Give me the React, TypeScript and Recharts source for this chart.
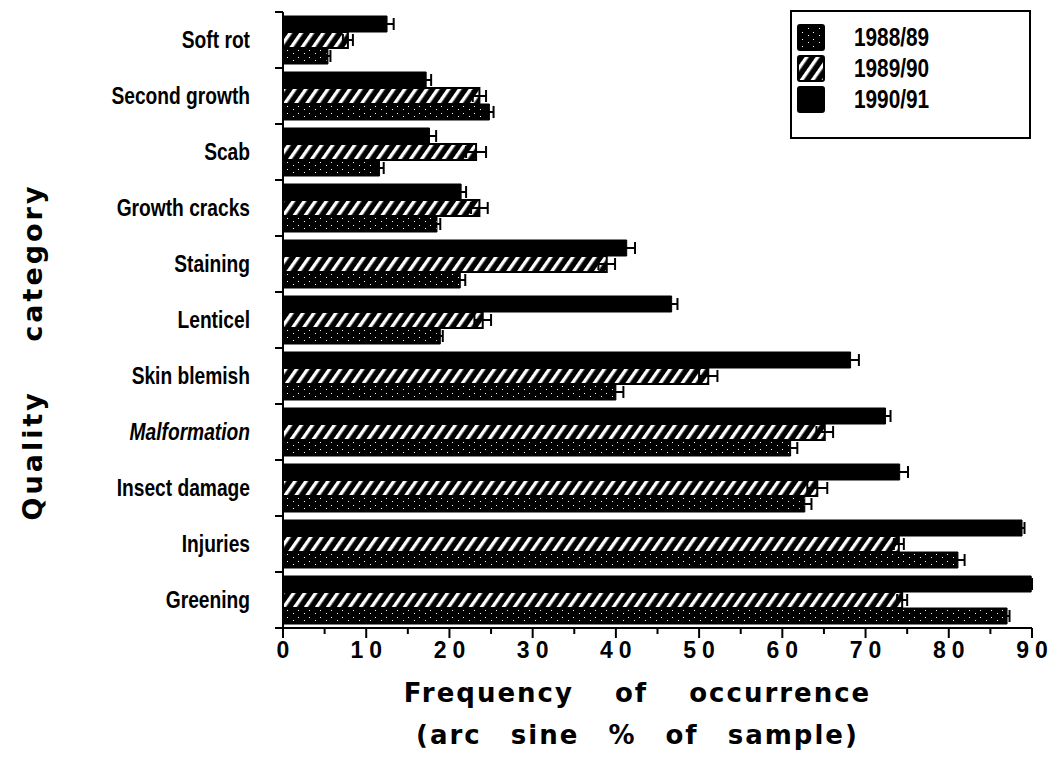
import React from 'react'
import { BarChart, Bar, XAxis, YAxis, ErrorBar } from 'recharts'

// quality categories, top to bottom
const categories = [
  'Soft rot',
  'Second growth',
  'Scab',
  'Growth cracks',
  'Staining',
  'Lenticel',
  'Skin blemish',
  'Malformation',
  'Insect damage',
  'Injuries',
  'Greening',
]

// arc sine % of sample, with standard errors
const season8889 = [5.4, 24.8, 11.6, 18.5, 21.3, 18.9, 40.0, 61.0, 62.7, 81.1, 87.0]
const err8889 = [0.3, 0.5, 0.5, 0.4, 0.6, 0.3, 0.9, 0.8, 0.8, 0.8, 0.3]
const season8990 = [7.8, 23.6, 23.2, 23.6, 38.9, 24.0, 51.1, 65.1, 64.2, 74.0, 74.4]
const err8990 = [0.6, 0.8, 1.2, 1.0, 1.0, 1.0, 1.1, 1.0, 1.2, 0.6, 0.6]
const season9091 = [12.5, 17.2, 17.6, 21.4, 41.3, 46.7, 68.2, 72.4, 74.1, 88.8, 89.9]
const err9091 = [0.8, 0.6, 0.8, 0.6, 1.0, 0.7, 1.0, 0.6, 1.0, 0.3, 0.1]

const xTicks = [0, 5, 10, 15, 20, 25, 30, 35, 40, 45, 50, 55, 60, 65, 70, 75, 80, 85, 90]
const seasonLabels = ['1988/89', '1989/90', '1990/91']

const W = 1063
const H = 779
const PLOT_LEFT = 283
const PLOT_RIGHT = 1032
const PLOT_TOP = 12
const PLOT_BOTTOM = 628
const Y_AXIS_W = 200
const X_AXIS_H = 40
const BAND = (PLOT_BOTTOM - PLOT_TOP) / categories.length

const data = categories.map((name, i) => ({
  name,
  s8889: season8889[i],
  e8889: err8889[i],
  s8990: season8990[i],
  e8990: err8990[i],
  s9091: season9091[i],
  e9091: err9091[i],
}))

// condensed bold look: Liberation Sans squeezed horizontally
const sans = "'Liberation Sans', Arial, sans-serif"
const wide = "'DejaVu Sans', Verdana, sans-serif"

const Patterns = ({ prefix }: { prefix: string }) => (
  <defs>
    <pattern id={`${prefix}-hatch`} patternUnits="userSpaceOnUse" width="9" height="9" patternTransform="rotate(35)">
      <rect width="9" height="9" fill="#000" />
      <rect x="3" y="0" width="3.4" height="9" fill="#fff" />
    </pattern>
    <pattern id={`${prefix}-stipple`} patternUnits="userSpaceOnUse" width="11" height="7">
      <rect width="11" height="7" fill="#000" />
      <rect x="1" y="1" width="1" height="1" fill="#fff" />
      <rect x="7" y="4" width="1" height="1" fill="#fff" />
    </pattern>
  </defs>
)

const Narrow = ({ x, y, anchor, size, italic, children }: any) => (
  <text
    transform={`translate(${x},${y}) scale(0.8,1)`}
    textAnchor={anchor}
    fontFamily={sans}
    fontWeight="bold"
    fontStyle={italic ? 'italic' : 'normal'}
    fontSize={size}
    fill="#000"
  >
    {children}
  </text>
)

const CategoryTick = (props: any) => {
  const { x, y, payload, index } = props
  return (
    <g>
      <line x1={x - 8} x2={x} y1={y - BAND / 2} y2={y - BAND / 2} stroke="#000" strokeWidth={2} />
      {index === categories.length - 1 && (
        <line x1={x - 8} x2={x} y1={y + BAND / 2} y2={y + BAND / 2} stroke="#000" strokeWidth={2} />
      )}
      <Narrow x={x - 33} y={y + 8} anchor="end" size={24} italic={payload.value === 'Malformation'}>
        {payload.value}
      </Narrow>
    </g>
  )
}

const ValueTick = (props: any) => {
  const { x, y, payload } = props
  const major = payload.value % 10 === 0
  return (
    <g>
      <line x1={x} x2={x} y1={y} y2={y + (major ? 10 : 6)} stroke="#000" strokeWidth={2} />
      {major && (
        <text x={x + 3} y={y + 30} textAnchor="middle" fontFamily={sans} fontWeight="bold" fontSize={23} letterSpacing={6} fill="#000">
          {payload.value}
        </text>
      )}
    </g>
  )
}

const XTitle = (props: any) => {
  const { viewBox } = props
  const cx = viewBox.x + viewBox.width / 2 - 20
  return (
    <g fontFamily={wide} fontWeight="bold" fill="#000" fontSize={26} letterSpacing={2}>
      <text x={cx} y={viewBox.y + 74} textAnchor="middle" wordSpacing={30}>
        Frequency of occurrence
      </text>
      <text x={cx} y={viewBox.y + 116} textAnchor="middle" wordSpacing={18}>
        (arc sine % of sample)
      </text>
    </g>
  )
}

const YTitle = () => (
  <text
    x={42}
    y={352}
    transform="rotate(-90 42 352)"
    textAnchor="middle"
    fontFamily={wide}
    fontWeight="bold"
    fontSize={27}
    letterSpacing={3}
    wordSpacing={36}
    fill="#000"
  >
    Quality category
  </text>
)

const fills = ['url(#leg-stipple)', 'url(#leg-hatch)', '#000']

const LegendBox = () => (
  <svg width={242} height={130} style={{ position: 'absolute', left: 790, top: 10 }}>
    <Patterns prefix="leg" />
    <rect x={1} y={1} width={239} height={127} fill="#fff" stroke="#000" strokeWidth={2} />
    {seasonLabels.map((label, i) => (
      <g key={label}>
        <rect x={8} y={15 + i * 31} width={26} height={25} fill={fills[i]} stroke="#000" strokeWidth={2} rx={2} />
        <Narrow x={64} y={36 + i * 31} anchor="start" size={26}>
          {label}
        </Narrow>
      </g>
    ))}
  </svg>
)

export default function App() {
  return (
    <div style={{ position: 'absolute', left: 0, top: 0, width: W, height: H, background: '#fff' }}>
      <BarChart
        width={W}
        height={H}
        data={data}
        layout="vertical"
        barGap={0}
        barSize={16}
        margin={{
          top: PLOT_TOP,
          right: W - PLOT_RIGHT,
          left: PLOT_LEFT - Y_AXIS_W,
          bottom: H - PLOT_BOTTOM - X_AXIS_H,
        }}
      >
        <Patterns prefix="bar" />
        <XAxis
          type="number"
          domain={[0, 90]}
          ticks={xTicks}
          allowDataOverflow
          height={X_AXIS_H}
          tickSize={0}
          tickMargin={0}
          tickLine={false}
          tick={<ValueTick />}
          interval={0}
          axisLine={{ stroke: '#000', strokeWidth: 2 }}
          label={<XTitle />}
        />
        <YAxis
          type="category"
          dataKey="name"
          width={Y_AXIS_W}
          tickSize={0}
          tickMargin={0}
          tickLine={false}
          tick={<CategoryTick />}
          interval={0}
          axisLine={{ stroke: '#000', strokeWidth: 2 }}
        />
        <Bar dataKey="s9091" fill="#000" stroke="#000" strokeWidth={1} isAnimationActive={false}>
          <ErrorBar dataKey="e9091" direction="x" width={6} stroke="#000" strokeWidth={2} />
        </Bar>
        <Bar dataKey="s8990" fill="url(#bar-hatch)" stroke="#000" strokeWidth={2} isAnimationActive={false}>
          <ErrorBar dataKey="e8990" direction="x" width={6} stroke="#000" strokeWidth={2} />
        </Bar>
        <Bar dataKey="s8889" fill="url(#bar-stipple)" stroke="#000" strokeWidth={1} isAnimationActive={false}>
          <ErrorBar dataKey="e8889" direction="x" width={6} stroke="#000" strokeWidth={2} />
        </Bar>
      </BarChart>
      <svg width={80} height={H} style={{ position: 'absolute', left: 0, top: 0 }}>
        <YTitle />
      </svg>
      <LegendBox />
    </div>
  )
}
